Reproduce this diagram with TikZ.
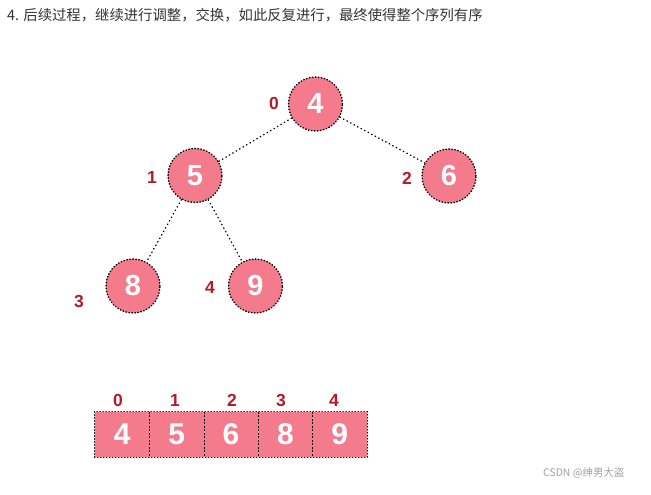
\documentclass[tikz,border=0pt]{standalone}
\usepackage{fontspec}
\setmainfont{Liberation Sans}
\newfontfamily\cjk{Noto Sans CJK SC}
\definecolor{pinkfill}{RGB}{243,123,139}
\definecolor{idxred}{RGB}{178,28,42}
\definecolor{headgray}{RGB}{51,51,51}
\definecolor{markgray}{RGB}{160,160,160}
\tikzset{
  dotline/.style={line width=1.5pt, line cap=round, dash pattern=on 0.5pt off 2.5pt},
  heapnode/.style={circle, fill=pinkfill, draw=black, dotline, minimum size=54pt, inner sep=0pt,
    text=white, font=\fontsize{29}{29}\selectfont\bfseries},
  idx/.style={text=idxred, font=\fontsize{17.5}{17.5}\selectfont\bfseries, inner sep=0pt},
  cellbox/.style={rectangle, fill=pinkfill, minimum width=54.4pt, minimum height=45pt, inner sep=0pt,
    text=white, font=\fontsize{30}{30}\selectfont\bfseries},
  edge/.style={draw=black, line width=1.4pt, line cap=round, dash pattern=on 0.5pt off 3.5pt},
  boxline/.style={draw=black, dotline, line width=1.3pt},
  divider/.style={draw=black, line width=0.9pt, dash pattern=on 2pt off 1.5pt},
}
\begin{document}
\begin{tikzpicture}[x=1pt,y=-1pt]
\useasboundingbox (0,0) rectangle (651,495);
\node[anchor=west, inner sep=0pt, text=headgray, font=\cjk\fontsize{14.35}{15}\selectfont] (title) at (7,15) {4. 后续过程，继续进行调整，交换，如此反复进行，最终使得整个序列有序};

\node[heapnode] (n0) at (315.5,104) {4};
\node[heapnode] (n1) at (195,175.5) {5};
\node[heapnode] (n2) at (449,176) {6};
\node[heapnode] (n3) at (133,286) {8};
\node[heapnode] (n4) at (255.5,286) {9};

\draw[edge] (n0) -- (n1);
\draw[edge] (n0) -- (n2);
\draw[edge] (n1) -- (n3);
\draw[edge] (n1) -- (n4);

\node[idx] (l0) at (274,103) {0};
\node[idx] (l1) at (152,177) {1};
\node[idx] (l2) at (407,178) {2};
\node[idx] (l3) at (79,301) {3};
\node[idx] (l4) at (210,287) {4};

\node[cellbox] (c0) at (122.2,434.5) {4};
\node[cellbox] (c1) at (176.6,434.5) {5};
\node[cellbox] (c2) at (231,434.5) {6};
\node[cellbox] (c3) at (285.4,434.5) {8};
\node[cellbox] (c4) at (339.8,434.5) {9};
\draw[divider] (c0.north east) -- (c0.south east);
\draw[divider] (c1.north east) -- (c1.south east);
\draw[divider] (c2.north east) -- (c2.south east);
\draw[divider] (c3.north east) -- (c3.south east);
\draw[boxline] (c0.north west) rectangle (c4.south east);

\node[idx] (a0) at (118,400) {0};
\node[idx] (a1) at (175,400) {1};
\node[idx] (a2) at (232,400) {2};
\node[idx] (a3) at (281,400) {3};
\node[idx] (a4) at (334,400) {4};

\node[anchor=west, inner sep=0pt, text=markgray, font=\cjk\fontsize{10.4}{11}\selectfont] (mark) at (543,473) {CSDN @绅男大盗};
\end{tikzpicture}
\end{document}
